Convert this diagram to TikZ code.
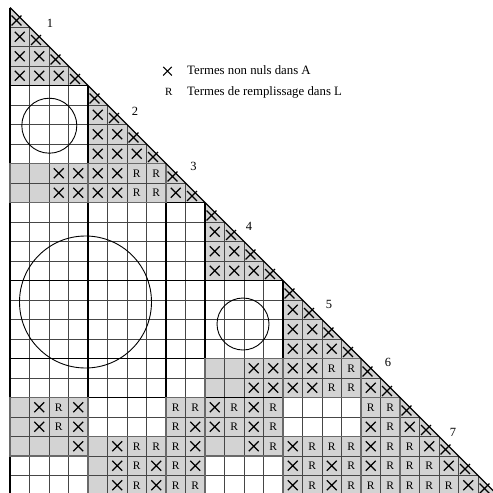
\documentclass[tikz,border=0pt]{standalone}
\usepackage{fontspec}
\setmainfont{Liberation Serif}
\definecolor{cellfill}{RGB}{211,211,211}
\definecolor{gridc}{RGB}{70,70,70}
\definecolor{rectc}{RGB}{105,105,105}
\begin{document}
\begin{tikzpicture}[x=1pt,y=-1pt,
  xmark/.style={line width=1.1pt,black},
  gridline/.style={line width=0.8pt,gridc},
  blockline/.style={line width=1.2pt,black},
  rectborder/.style={line width=1.5pt,rectc},
  rmark/.style={inner sep=0pt,font=\fontsize{11.5}{13}\selectfont},
  lab/.style={inner sep=0pt,font=\fontsize{12.5}{14}\selectfont},
  legtext/.style={inner sep=0pt,anchor=base west,font=\fontsize{12.8}{15}\selectfont}]
\useasboundingbox (0,0) rectangle (493,493);
\clip (0,0) rectangle (493,493);
% shaded diagonal triangles of the supernodes
\foreach \a/\b in {1/4,5/8,9/10,11/14,15/18,19/20,21/25}
  \fill[cellfill] ({10+19.5*(\a-1)},{7.5+19.5*(\a-1)}) -- ({10+19.5*\b},{7.5+19.5*\b}) -- ({10+19.5*(\a-1)},{7.5+19.5*\b}) -- cycle;
% shaded off-diagonal rectangles
\foreach \ra/\rb/\ca/\cb in {9/10/1/4,9/10/5/8,21/23/1/4,23/25/5/8,21/25/9/10,19/23/11/14,19/20/15/18,23/25/15/18,21/25/19/20}
  \fill[cellfill] ({10+19.5*(\ca-1)},{7.5+19.5*(\ra-1)}) rectangle ({10+19.5*\cb},{7.5+19.5*\rb});
% grid
\foreach \k in {1,...,25}
  \draw[gridline] (10,{7.5+19.5*\k}) -- ({10+19.5*\k},{7.5+19.5*\k});
\foreach \k in {0,...,25}
  \draw[gridline] ({10+19.5*\k},{7.5+19.5*\k}) -- ({10+19.5*\k},500);
% supernode boundaries
\foreach \k in {4,8,10,14,18,20}
  \draw[blockline] (10,{7.5+19.5*\k}) -- ({10+19.5*\k},{7.5+19.5*\k});
\foreach \k in {0,4,8,10,14,18,20}
  \draw[blockline] ({10+19.5*\k},{7.5+19.5*\k}) -- ({10+19.5*\k},500);
% borders of the shaded rectangles
\foreach \ra/\rb/\ca/\cb in {9/10/1/4,9/10/5/8,21/23/1/4,23/25/5/8,21/25/9/10,19/23/11/14,19/20/15/18,23/25/15/18,21/25/19/20}
  \draw[rectborder] ({10+19.5*(\ca-1)},{7.5+19.5*(\ra-1)}) rectangle ({10+19.5*\cb},{7.5+19.5*\rb});
% diagonal
\coordinate (d0) at (10,7.5);
\coordinate (d1) at (497.5,495);
\draw[line width=1.4pt,black] (d0) -- (d1);
% empty blocks
\draw[line width=0.9pt] (49.3,125.7) circle (27.5);
\draw[line width=0.9pt] (85.5,302) circle (66);
\draw[line width=0.9pt] (243,324) circle (26);
% X on the diagonal
\foreach \r in {1,...,25}
  \draw[xmark] ({10+19.5*(\r-1)+6.5},{7.5+19.5*(\r-1)+13}) ++(-4.9,-4.9) -- ++(9.8,9.8) ++(0,-9.8) -- ++(-9.8,9.8);
% X in dense diagonal blocks
\foreach \a/\b in {1/4,5/8,9/10,11/14,15/18,19/20}
  \foreach \r in {\a,...,\b}
    \foreach \c in {\a,...,\r}{
      \ifnum\c<\r\relax
        \draw[xmark] ({10+19.5*(\c-0.5)},{7.5+19.5*(\r-0.5)}) ++(-4.9,-4.9) -- ++(9.8,9.8) ++(0,-9.8) -- ++(-9.8,9.8);
      \fi}
% other X
\foreach \r/\c in {9/3,9/4,9/5,9/6,10/3,10/4,10/5,10/6,
  19/13,19/14,19/15,19/16,20/13,20/14,20/15,20/16,
  21/2,21/4,21/11,21/13,
  22/2,22/4,22/10,22/11,22/13,22/19,22/21,
  23/4,23/6,23/10,23/13,23/15,23/19,23/22,
  24/6,24/8,24/10,24/15,24/17,24/19,24/23,
  25/6,25/8,25/15,25/17,25/24}
  \draw[xmark] ({10+19.5*(\c-0.5)},{7.5+19.5*(\r-0.5)}) ++(-4.9,-4.9) -- ++(9.8,9.8) ++(0,-9.8) -- ++(-9.8,9.8);
% R fill-in
\foreach \r/\c in {9/7,9/8,10/7,10/8,
  19/17,19/18,20/17,20/18,
  21/3,21/9,21/10,21/12,21/14,21/19,21/20,
  22/3,22/9,22/12,22/14,22/20,
  23/7,23/8,23/9,23/14,23/16,23/17,23/18,23/20,23/21,
  24/7,24/9,24/16,24/18,24/20,24/21,24/22,
  25/7,25/9,25/10,25/16,25/18,25/19,25/20,25/21,25/22,25/23}
  \node[rmark] (R\r-\c) at ({10+19.5*(\c-0.5)},{7.5+19.5*(\r-0.5)}) {R};
% supernode numbers
\node[lab] (n1) at (50,23.5) {1};
\node[lab] (n2) at (135,111.5) {2};
\node[lab] (n3) at (193.5,166.5) {3};
\node[lab] (n4) at (249,226) {4};
\node[lab] (n5) at (329,304) {5};
\node[lab] (n6) at (388,362) {6};
\node[lab] (n7) at (453,432.5) {7};
% legend
\draw[xmark] (167.5,71.2) ++(-4.3,-4.3) -- ++(8.6,8.6) ++(0,-8.6) -- ++(-8.6,8.6);
\node[inner sep=0pt,anchor=base,font=\fontsize{11}{13}\selectfont] (legR) at (168.7,95) {R};
\node[legtext] (leg1) at (187,74.7) {Termes non nuls dans A};
\node[legtext] (leg2) at (187,95.3) {Termes de remplissage dans L};
\end{tikzpicture}
\end{document}
